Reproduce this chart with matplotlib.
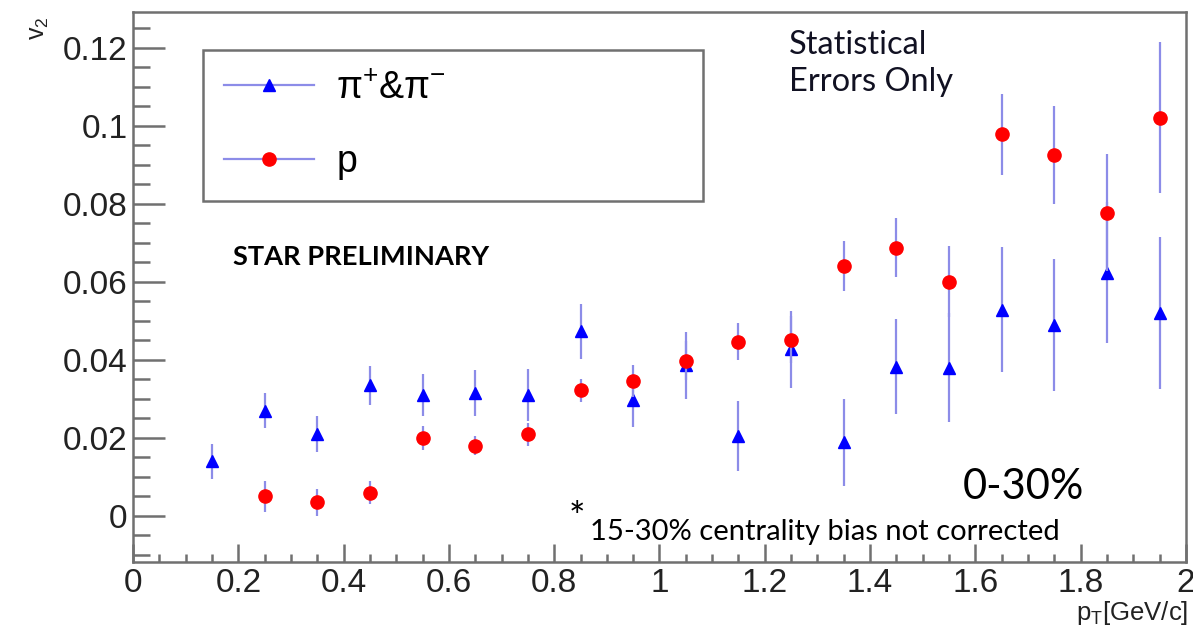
import numpy as np
import matplotlib
matplotlib.use('Agg')
import matplotlib.pyplot as plt
from matplotlib.ticker import MultipleLocator, FuncFormatter
from matplotlib.lines import Line2D

# pT bin centres
pt_pion = [0.15, 0.25, 0.35, 0.45, 0.55, 0.65, 0.75, 0.85, 0.95, 1.05,
           1.15, 1.25, 1.35, 1.45, 1.55, 1.65, 1.75, 1.85, 1.95]
v2_pion = [0.014, 0.027, 0.021, 0.0335, 0.031, 0.0315, 0.031, 0.0473, 0.0296, 0.0386,
           0.0204, 0.0427, 0.0189, 0.0383, 0.038, 0.0529, 0.049, 0.0624, 0.0521]
err_pion = [0.0045, 0.0045, 0.0045, 0.005, 0.0055, 0.006, 0.0066, 0.007, 0.0068, 0.0085,
            0.009, 0.0099, 0.0111, 0.0122, 0.014, 0.016, 0.017, 0.018, 0.0195]

pt_prot = [0.25, 0.35, 0.45, 0.55, 0.65, 0.75, 0.85, 0.95, 1.05,
           1.15, 1.25, 1.35, 1.45, 1.55, 1.65, 1.75, 1.85, 1.95]
v2_prot = [0.005, 0.0035, 0.006, 0.020, 0.018, 0.0209, 0.0322, 0.0346, 0.0398,
           0.0447, 0.0452, 0.0641, 0.0688, 0.0601, 0.0979, 0.0925, 0.0777, 0.1021]
err_prot = [0.004, 0.0035, 0.003, 0.003, 0.0025, 0.003, 0.003, 0.004, 0.005,
            0.0047, 0.006, 0.0065, 0.0075, 0.009, 0.0104, 0.0125, 0.015, 0.0194]

labels = [u'\u03c0$^{+}$&\u03c0$^{-}$', 'p']

plt.rcParams['mathtext.fontset'] = 'custom'
plt.rcParams['mathtext.rm'] = 'Liberation Sans'
plt.rcParams['mathtext.it'] = 'Liberation Sans'
tick_font = 'Liberation Sans'
note_font = ['Lato', 'DejaVu Sans']

fig = plt.figure(figsize=(11.93, 6.31), dpi=100)
ax = fig.add_axes([0.1115, 0.1094, 0.8826, 0.8716])

err_col = '#8c8ce8'
ax.errorbar(pt_pion, v2_pion, yerr=err_pion, fmt='^', color='#0000ff', ms=9,
            ecolor=err_col, elinewidth=1.6, capsize=0, zorder=3)
ax.errorbar(pt_prot, v2_prot, yerr=err_prot, fmt='o', color='#ff0000', ms=9.5,
            ecolor=err_col, elinewidth=1.6, capsize=0, zorder=4)

ax.set_xlim(0, 2)
ax.set_ylim(-0.0118, 0.1292)

ax.xaxis.set_major_locator(MultipleLocator(0.2))
ax.xaxis.set_minor_locator(MultipleLocator(0.05))
ax.yaxis.set_major_locator(MultipleLocator(0.02))
ax.yaxis.set_minor_locator(MultipleLocator(0.005))
fmt = FuncFormatter(lambda v, p: '%g' % round(v, 4))
ax.xaxis.set_major_formatter(fmt)
ax.yaxis.set_major_formatter(fmt)

frame_col = '#707070'
for s in ax.spines.values():
    s.set_color(frame_col)
    s.set_linewidth(1.8)
ax.tick_params(axis='both', which='both', direction='in', color=frame_col,
               width=1.8, top=False, right=False)
ax.tick_params(axis='y', which='major', length=23, pad=4)
ax.tick_params(axis='y', which='minor', length=12)
ax.tick_params(axis='x', which='major', length=13, pad=4)
ax.tick_params(axis='x', which='minor', length=6)
for lab in ax.get_xticklabels() + ax.get_yticklabels():
    lab.set_fontfamily(tick_font)
    lab.set_fontsize(24)
    lab.set_color('#222222')

# axis titles (ROOT style, at the ends)
fig.text(0.033, 0.955, r'v$_2$', rotation=90, fontsize=18, family=tick_font,
         color='#222222', ha='center', va='center')
fig.text(0.996, 0.028, r'p$_{\rm T}$[GeV/c]', fontsize=18.5, family=tick_font,
         color='#222222', ha='right', va='center')

# legend
handles = [Line2D([], [], color=err_col, lw=1.6, marker='^', ms=9,
                  markerfacecolor='#0000ff', markeredgecolor='#0000ff'),
           Line2D([], [], color=err_col, lw=1.6, marker='o', ms=9.5,
                  markerfacecolor='#ff0000', markeredgecolor='#ff0000')]
leg = ax.legend(handles, labels, loc='upper left', mode='expand',
                bbox_to_anchor=(0.0665, 0.667, 0.475, 0.264),
                prop={'family': tick_font, 'size': 27}, handlelength=2.4,
                handletextpad=0.6, borderpad=0.55, labelspacing=1.0,
                fancybox=False, framealpha=1, borderaxespad=0)
leg.get_frame().set_edgecolor(frame_col)
leg.get_frame().set_linewidth(1.8)

# annotations
ax.text(0.095, 0.555, 'STAR PRELIMINARY', transform=ax.transAxes, fontsize=19.6,
        fontweight='bold', family=note_font, color='black', va='center')
ax.text(0.623, 0.968, 'Statistical\nErrors Only', transform=ax.transAxes,
        fontsize=23.5, family=note_font, color='#111122', va='top', linespacing=1.3)
ax.text(0.788, 0.115, '0-30%', transform=ax.transAxes, fontsize=30,
        family=note_font, color='black', va='baseline')
ax.text(0.414, 0.058, '*', transform=ax.transAxes, fontsize=28,
        family=note_font, color='black', va='baseline')
ax.text(0.434, 0.040, '15-30% centrality bias not corrected', transform=ax.transAxes,
        fontsize=21, family=note_font, color='black', va='baseline')

fig.savefig('out.png', dpi=100)
